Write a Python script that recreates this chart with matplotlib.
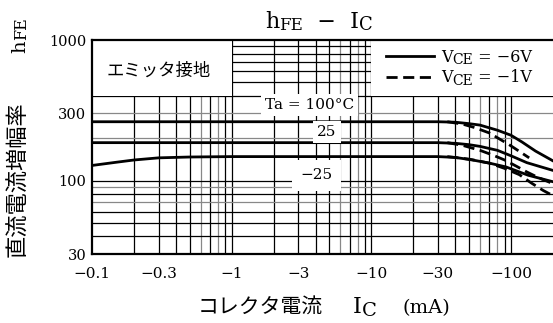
import matplotlib
matplotlib.use('Agg')
import matplotlib.pyplot as plt
from matplotlib.patches import Rectangle

plt.rcParams['font.family'] = ['DejaVu Serif', 'Noto Sans CJK JP']

# 軸の目盛り
x_ticks = [0.1, 0.3, 1, 3, 10, 30, 100]
x_tick_labels = ['−0.1', '−0.3', '−1', '−3', '−10', '−30', '−100']
y_ticks = [30, 100, 300, 1000]
y_tick_labels = ['30', '100', '300', '1000']

# VCE = -6V (実線), |IC| [mA]
ic_s100 = [0.1, 30, 40, 50, 60, 80, 100, 120, 150, 200]
hfe_s100 = [262, 262, 260, 254, 248, 228, 210, 188, 162, 138]
ic_s25 = [0.1, 30, 40, 50, 60, 80, 100, 130, 160, 200]
hfe_s25 = [186, 186, 184, 180, 175, 164, 150, 134, 126, 118]
ic_sm25 = [0.1, 0.15, 0.2, 0.3, 0.5, 1, 30, 40, 53, 70, 92, 133, 200]
hfe_sm25 = [128, 135, 140, 145, 147, 148, 148, 146, 140, 133, 125, 109, 98]

# VCE = -1V (破線)
ic_d100 = [35, 45, 55, 70, 97, 135]
hfe_d100 = [262, 252, 238, 218, 180, 145]
ic_d25 = [35, 45, 60, 75, 90, 110, 130, 160, 200]
hfe_d25 = [186, 178, 164, 151, 140, 126, 115, 104, 95]
ic_dm25 = [35, 50, 70, 90, 115, 140, 170, 200]
hfe_dm25 = [148, 142, 133, 122, 110, 96, 85, 78]

fig = plt.figure(figsize=(5.53, 3.23), dpi=100)
ax = fig.add_axes([92 / 553, 1 - 254 / 323, 1 - 92 / 553, 214 / 323])
ax.set_xscale('log')
ax.set_yscale('log')
ax.set_xlim(0.1, 200)
ax.set_ylim(30, 1000)


def chain(prev, s, size, dx=0, dy=0, base=None, **kw):
    """prev の右下に続けて文字を置く (添字用)"""
    xyc = prev if base is None else (prev, base)
    return ax.annotate(s, xy=(1, 0), xycoords=xyc, xytext=(dx, dy),
                       textcoords='offset points', fontsize=size,
                       ha='left', va='bottom', annotation_clip=False, zorder=7, **kw)


# 方眼
for d in [0.1, 1, 10, 100]:
    for k in range(1, 10):
        v = k * d
        if 0.1 < v < 200:
            c = '#888888' if k in (6, 8) else 'black'
            ax.axvline(v, color=c, lw=0.9, zorder=1)
for v in [40, 50, 60, 70, 80, 90, 100, 200, 300, 400, 500, 600, 700, 800, 900]:
    c = '#888888' if v in (70, 90, 200, 300) else 'black'
    ax.axhline(v, color=c, lw=0.9, zorder=1)

# 注記と凡例の白抜き
ax.add_patch(Rectangle((0.1, 400), 0.9, 600, facecolor='white', edgecolor='none', zorder=2))
ax.add_patch(Rectangle((10, 400), 190, 600, facecolor='white', edgecolor='none', zorder=2))

line_kw = dict(color='black', lw=2.0, zorder=3)
dash_kw = dict(color='black', lw=2.0, zorder=3, dashes=(4, 2))
ax.plot(ic_s100, hfe_s100, label='V', **line_kw)
ax.plot(ic_s25, hfe_s25, **line_kw)
ax.plot(ic_sm25, hfe_sm25, **line_kw)
ax.plot(ic_d100, hfe_d100, label='V', **dash_kw)
ax.plot(ic_d25, hfe_d25, **dash_kw)
ax.plot(ic_dm25, hfe_dm25, **dash_kw)

box = dict(facecolor='white', edgecolor='none', pad=3)
ax.text(3.6, 344, 'Ta = 100°C', fontsize=11, ha='center', va='center', bbox=box, zorder=4)
ax.text(4.8, 221, '25', fontsize=11, ha='center', va='center', bbox=box, zorder=4)
ax.text(4.05, 109, '−25', fontsize=11, ha='center', va='center',
        bbox=dict(facecolor='white', edgecolor='none', pad=6), zorder=4)
ax.text(0.301, 601, 'エミッタ接地', fontsize=12.5, ha='center', va='center',
        family=['Noto Sans CJK JP'], zorder=4)

# 凡例
leg = ax.legend(loc='upper left', bbox_to_anchor=(0.638, 0.958),
                frameon=False, fontsize=11.5, handlelength=3.0, handletextpad=0.42,
                labelspacing=0.2, borderpad=0, borderaxespad=0)
leg.set_zorder(5)
for t, rest in zip(leg.get_texts(), [' = −6V', ' = −1V']):
    sub = chain(t, 'CE', 10, dy=-1)
    chain(sub, rest, 11.5, base=t)

ax.set_xticks(x_ticks)
ax.set_xticklabels(x_tick_labels)
ax.set_yticks(y_ticks)
ax.set_yticklabels(y_tick_labels)
ax.minorticks_off()
ax.tick_params(axis='x', length=0, pad=9, labelsize=11)
ax.tick_params(axis='y', length=0, pad=4, labelsize=10.5)

for s in ['left', 'bottom', 'top']:
    ax.spines[s].set_linewidth(1.6)
    ax.spines[s].set_zorder(6)
ax.spines['right'].set_visible(False)

# タイトル
t = fig.text(265 / 553, 1 - 28 / 323, 'h', fontsize=16, ha='left', va='baseline')
sub = chain(t, 'FE', 12, dy=-1)
t2 = chain(sub, '  −  I', 16, base=t)
chain(t2, 'C', 13, dy=-1)

# 縦軸ラベル
fig.text(18 / 553, 1 - 179 / 323, '直流電流増幅率', fontsize=16, rotation=90,
         ha='center', va='center', family=['Noto Sans CJK JP'])
th = fig.text(20 / 553, 1 - 53 / 323, 'h', fontsize=14, rotation=90, ha='center', va='bottom')
ax.annotate('FE', xy=(1, 1), xycoords=th, xytext=(1, 0), textcoords='offset points',
            fontsize=11.5, rotation=90, ha='right', va='bottom', annotation_clip=False)

# 横軸ラベル
fig.text(260 / 553, 1 - 307 / 323, 'コレクタ電流', fontsize=15,
         ha='center', va='center', family=['Noto Sans CJK JP'])
ti = fig.text(353 / 553, 1 - 313 / 323, 'I', fontsize=16, ha='left', va='baseline')
chain(ti, 'C', 14, dy=-1.5)
fig.text(426 / 553, 1 - 313 / 323, '(mA)', fontsize=14, ha='center', va='baseline')

plt.savefig('out.png', dpi=100)
